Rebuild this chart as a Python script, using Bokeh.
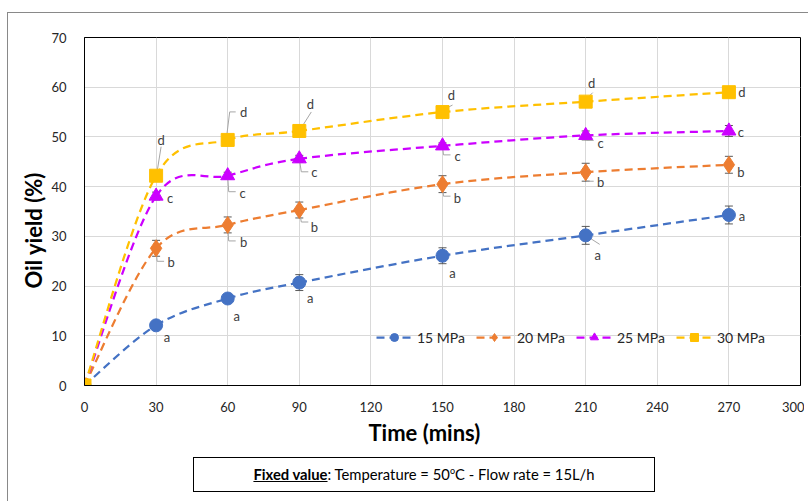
from bokeh.plotting import figure
from bokeh.models import (ColumnDataSource, Whisker, TeeHead, Legend, LegendItem, Div,
                          FixedTicker, Range1d, InlineStyleSheet, Title)
from bokeh.layouts import column
from bokeh.embed import file_html
from bokeh.resources import INLINE
from bokeh.core.properties import value

# ---------------- data ----------------
time = [0, 30, 60, 90, 150, 210, 270]
series_names = ["15 MPa", "20 MPa", "25 MPa", "30 MPa"]
y15 = [0, 12.1, 17.5, 20.7, 26.1, 30.2, 34.3]
y20 = [0, 27.6, 32.3, 35.3, 40.5, 42.9, 44.4]
y25 = [0, 38.1, 42.2, 45.6, 48.2, 50.3, 51.2]
y30 = [0, 42.2, 49.4, 51.2, 55.0, 57.1, 59.0]
e15 = [0, 0.6, 0.6, 1.6, 1.6, 1.8, 1.8]
e20 = [0, 1.6, 1.6, 1.6, 1.7, 1.8, 1.7]
e25 = [0, 0.8, 0.7, 0.7, 0.6, 0.9, 1.1]
e30 = [0, 0.5, 0.4, 0.5, 0.5, 0.5, 0.4]
l15 = ["", "a", "a", "a", "a", "a", "a"]
l20 = ["", "b", "b", "b", "b", "b", "b"]
l25 = ["", "c", "c", "c", "c", "c", "c"]
l30 = ["", "d", "d", "d", "d", "d", "d"]
x_ticks = [0, 30, 60, 90, 120, 150, 180, 210, 240, 270, 300]
y_ticks = [0, 10, 20, 30, 40, 50, 60, 70]
x_title = "Time (mins)"
y_title = "Oil yield (%)"

# ---------------- styles ----------------
colors = ["#4472C4", "#ED7D31", "#CC00FF", "#FFC000"]
markers = ["circle", "diamond", "triangle", "square"]
msizes = [13, 17, 14, 13]
# label offsets in screen px (dx, dy; dy positive = down)
offs15 = [(0, 0), (11, 12), (9, 17), (11, 15), (10, 17), (12, 20), (13, 1)]
offs20 = [(0, 0), (15, 14), (16, 17), (15, 17), (15, 14), (15, 10), (12, 7)]
offs25 = [(0, 0), (14, 2), (15, 17), (15, 13), (15, 10), (15, 8), (12, 1)]
offs30 = [(0, 0), (5, -36), (16, -28), (11, -27), (9, -17), (6, -19), (13, 0)]
# leader lines, as screen-px polylines from each point (None = no leader)
lead15 = [None, None, None, None, None, [(0, 0), (14, 9)], None]
lead20 = [None, [(0, 0), (1, 13), (8, 13)], [(0, 0), (1, 16), (8, 16)],
          [(0, 0), (2, 12), (9, 12)], [(0, 0), (1, 12), (8, 12)],
          [(0, 0), (1, 9), (8, 9)], None]
lead25 = [None, None, [(0, 0), (1, 16), (8, 16)], [(0, 0), (2, 13), (9, 13)],
          [(0, 0), (1, 9), (8, 9)], [(0, 0), (1, 5), (8, 5)], None]
lead30 = [None, [(1, -4), (5, -29)], [(-1, -4), (2, -28), (8, -28)],
          [(0, 0), (12, -19)], [(0, -2), (10, -7)], [(0, -2), (7, -9)], None]
# frame size in px, used to turn the px offsets of the leaders into data offsets
FRAME_W, FRAME_H = 716, 348

FONT = "Lato"

p = figure(width=804, height=450, output_backend="svg", toolbar_location=None,
           x_range=Range1d(0, 300), y_range=Range1d(0, 70),
           min_border_left=84, min_border_right=4, min_border_top=37, min_border_bottom=65)
p.background_fill_color = "white"
p.border_fill_color = None
p.outline_line_color = "black"
p.outline_line_width = 1

for ax in (p.xaxis, p.yaxis):
    ax.axis_line_color = "black"
    ax.major_tick_line_color = None
    ax.minor_tick_line_color = None
    ax.major_label_text_font = FONT
    ax.major_label_text_font_size = "13px"
    ax.major_label_text_color = "#262626"
p.xaxis.ticker = FixedTicker(ticks=x_ticks)
p.yaxis.ticker = FixedTicker(ticks=y_ticks)
p.xaxis.major_label_standoff = 10
p.yaxis.major_label_standoff = 12
p.xgrid.ticker = FixedTicker(ticks=x_ticks)
p.ygrid.ticker = FixedTicker(ticks=y_ticks)
p.grid.grid_line_color = "#d9d9d9"
p.grid.grid_line_width = 1

# axis titles (offset like the original, not centred on the frame)
p.add_layout(Title(text=x_title, align="left", offset=284, standoff=4,
                   text_font=FONT, text_font_size="22px", text_font_style="bold",
                   text_color="black"), "below")
p.add_layout(Title(text=y_title, align="left", offset=97, standoff=4,
                   text_font=FONT, text_font_size="22px", text_font_style="bold",
                   text_color="black"), "left")


def bezier_parts(xs, ys, t=1/6):
    n = len(xs)
    d = dict(x0=[], y0=[], x1=[], y1=[], cx0=[], cy0=[], cx1=[], cy1=[])
    for i in range(n - 1):
        pm = max(i - 1, 0)
        pp = min(i + 2, n - 1)
        d["x0"].append(xs[i]); d["y0"].append(ys[i])
        d["x1"].append(xs[i + 1]); d["y1"].append(ys[i + 1])
        d["cx0"].append(xs[i] + (xs[i + 1] - xs[pm]) * t)
        d["cy0"].append(ys[i] + (ys[i + 1] - ys[pm]) * t)
        d["cx1"].append(xs[i + 1] - (xs[pp] - xs[i]) * t)
        d["cy1"].append(ys[i + 1] - (ys[pp] - ys[i]) * t)
    return d


sx = FRAME_W / (p.x_range.end - p.x_range.start)
sy = FRAME_H / (p.y_range.end - p.y_range.start)


def leaders(xs, ys, leads):
    lx, ly = [], []
    for x, y, ld in zip(xs, ys, leads):
        if ld is None:
            continue
        lx.append([x + dx / sx for dx, dy in ld])
        ly.append([y - dy / sy for dx, dy in ld])
    return lx, ly


all_y = [y15, y20, y25, y30]
all_e = [e15, e20, e25, e30]
all_l = [l15, l20, l25, l30]
all_o = [offs15, offs20, offs25, offs30]
all_ld = [lead15, lead20, lead25, lead30]

items = []
for name, ys, es, ls, os_, ld, c, m, ms in zip(series_names, all_y, all_e, all_l, all_o,
                                                all_ld, colors, markers, msizes):
    bz = ColumnDataSource(bezier_parts(time, ys))
    p.bezier(x0="x0", y0="y0", x1="x1", y1="y1", cx0="cx0", cy0="cy0", cx1="cx1", cy1="cy1",
             source=bz, line_color=c, line_width=2.25, line_dash="8 5")
    src = ColumnDataSource(dict(x=time, y=ys,
                                upper=[a + b for a, b in zip(ys, es)],
                                lower=[a - b for a, b in zip(ys, es)],
                                lab=ls, dx=[o[0] for o in os_], dy=[o[1] for o in os_]))
    w = Whisker(source=src, base="x", upper="upper", lower="lower",
                line_color="#595959", line_width=1, level="underlay",
                upper_head=TeeHead(size=8, line_color="#595959", line_width=1),
                lower_head=TeeHead(size=8, line_color="#595959", line_width=1))
    p.add_layout(w)
    lx, ly = leaders(time, ys, ld)
    if lx:
        p.multi_line(lx, ly, line_color="#a6a6a6", line_width=1)
    p.scatter("x", "y", source=src, marker=m, size=ms, fill_color=c, line_color=c)
    p.text("x", "y", text="lab", source=src, x_offset="dx", y_offset="dy",
           text_font=value(FONT), text_font_size="13px", text_color="#404040",
           text_align="center", text_baseline="middle")
    # legend proxies (placed outside the visible range)
    lr = p.line([-100, -90], [-100, -100], line_color=c, line_width=2.25, line_dash="8 5")
    sr = p.scatter([-100], [-100], marker=m, size=ms, fill_color=c, line_color=c)
    items.append(LegendItem(label=name, renderers=[lr, sr]))

legend = Legend(items=items, orientation="horizontal", location=(292, 38),
                glyph_width=36, glyph_height=20, label_height=20,
                label_standoff=5, spacing=11, padding=0, margin=0,
                label_text_font=FONT, label_text_font_size="14px",
                label_text_color="#262626",
                background_fill_alpha=0, border_line_color=None)
p.add_layout(legend, "center")

box = Div(width=796, height=42, text=(
    '<div style="margin-left:188px;margin-top:2px;width:462px;height:35px;'
    'border:1px solid #000;display:flex;align-items:center;justify-content:center;'
    'font-family:Lato;font-size:14.8px;color:#000;box-sizing:border-box;">'
    '<span><b><u>Fixed value</u></b>: Temperature = 50<sup style="font-size:9px">o</sup>C'
    ' - Flow rate = 15L/h</span></div>'))

frame_css = InlineStyleSheet(css=(
    ":host { position: relative; }"
    ":host::before { content: ''; position: absolute; left: 7px; top: 12px;"
    " width: 800px; height: 488px; border-left: 1px solid #898989;"
    " border-top: 1px solid #898989; pointer-events: none; z-index: 5; }"))

layout = column(p, box, spacing=0, stylesheets=[frame_css])

open("out.html", "w").write(file_html(layout, INLINE))
